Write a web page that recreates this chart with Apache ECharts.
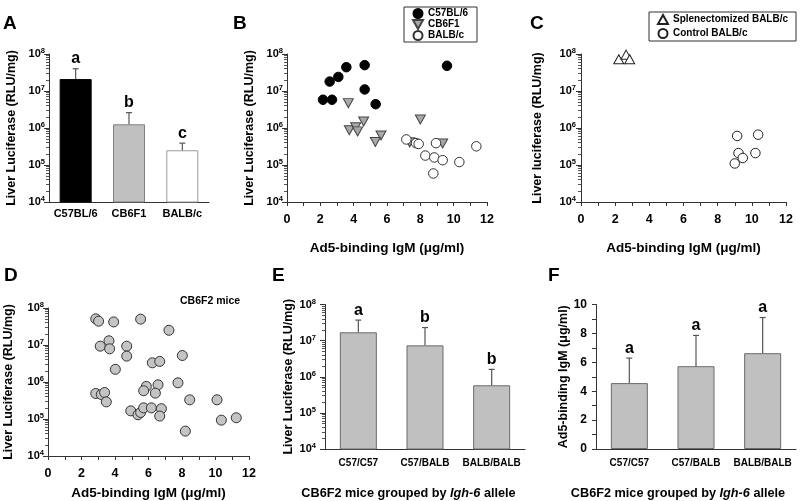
<!DOCTYPE html>
<html><head><meta charset="utf-8">
<script src="https://cdn.jsdelivr.net/npm/echarts@6/dist/echarts.min.js"></script>
<style>html,body{margin:0;padding:0;background:#fff}#c{width:800px;height:501px}</style>
</head><body><div id="c"></div><script>
const FONT = "'Liberation Sans', Arial, sans-serif";

// ---------- Data ----------
// Panel A
const strainsA = ['C57BL/6', 'CB6F1', 'BALB/c'];
const lucA = [2.1e7, 1.26e6, 2.5e5];
const lucAErr = [4.0e7, 2.6e6, 3.9e5];
const lettersA = ['a', 'b', 'c'];

// Panel B  [IgM, luciferase]
const bC57 = [[2.16,5.8e6],[2.7,5.8e6],[2.56,1.8e7],[3.08,2.4e7],[3.56,4.4e7],[4.66,5.0e7],[4.66,1.1e7],[5.32,4.4e6],[9.6,4.8e7]];
const bCB6F1 = [[3.68,4.7e6],[8.0,1.7e6],[4.6,1.5e6],[3.74,8.7e5],[4.12,1.05e6],[4.24,8.1e5],[5.64,6.3e5],[5.3,4.2e5],[7.36,4.1e5],[9.34,3.8e5]];
const bBALB = [[7.16,4.9e5],[7.74,3.9e5],[7.9,3.7e5],[8.94,3.9e5],[8.3,1.8e5],[8.84,1.6e5],[9.34,1.35e5],[8.78,5.9e4],[10.34,1.2e5],[11.36,3.2e5]];

// Panel C
const cSplx = [[2.21,7.2e7],[2.64,9.6e7],[2.85,7.2e7]];
const cCtrl = [[9.14,6.1e5],[10.37,6.6e5],[9.22,2.1e5],[10.21,2.1e5],[9.47,1.55e5],[9.0,1.1e5]];

// Panel D
const dF2 = [[2.85,5.1e7],[3.02,4.4e7],[3.92,4.2e7],[5.53,5.0e7],[7.22,2.5e7],[3.64,1.3e7],[3.12,9.3e6],[3.68,7.9e6],[4.70,9.3e6],[4.70,5.0e6],[8.02,5.2e6],[6.23,3.3e6],[6.67,3.6e6],[4.02,2.2e6],[7.76,9.5e5],[5.87,7.6e5],[6.57,8.4e5],[5.71,5.8e5],[6.41,5.0e5],[2.85,4.9e5],[3.18,4.6e5],[3.38,5.2e5],[3.48,2.9e5],[8.46,3.3e5],[10.09,3.3e5],[4.94,1.66e5],[5.37,1.3e5],[5.53,1.5e5],[5.71,2.0e5],[6.17,2.0e5],[6.77,1.9e5],[6.67,1.2e5],[10.35,9.3e4],[11.24,1.08e5],[8.2,4.7e4]];

// Panel E
const groupsE = ['C57/C57', 'C57/BALB', 'BALB/BALB'];
const lucE = [1.7e7, 7.4e6, 5.8e5];
const lucEErr = [3.7e7, 2.3e7, 1.6e6];
const lettersE = ['a', 'b', 'b'];

// Panel F
const igmF = [4.56, 5.73, 6.63];
const igmFErr = [6.29, 7.86, 9.10];
const lettersF = ['a', 'a', 'a'];

const panelLetters = ['A', 'B', 'C', 'D', 'E', 'F'];

// ---------- Helpers ----------
const AX = '#333';
function logY(gi, name, nameGap, margin) {
  return {
    type: 'log', logBase: 10, gridIndex: gi, min: 1e4, max: 1e8,
    name: name, nameLocation: 'middle', nameGap: nameGap,
    nameTextStyle: { fontFamily: FONT, fontWeight: 'bold', fontSize: 12.5, color: '#000' },
    axisLine: { show: true, lineStyle: { color: AX } },
    axisTick: { show: true, inside: false, length: 5, lineStyle: { color: AX } },
    minorTick: { show: true, splitNumber: 9, length: 3, lineStyle: { color: '#555' } },
    splitLine: { show: false }, minorSplitLine: { show: false },
    axisLabel: {
      margin: margin,
      formatter: v => '{n|10}{s|' + Math.round(Math.log10(v)) + '}',
      rich: {
        n: { fontFamily: FONT, fontWeight: 'bold', fontSize: 11, color: '#000', lineHeight: 14 },
        s: { fontFamily: FONT, fontWeight: 'bold', fontSize: 7.5, color: '#000', lineHeight: 8, verticalAlign: 'top' }
      }
    }
  };
}
function igmX(gi, nameGap) {
  return {
    type: 'value', gridIndex: gi, min: 0, max: 12, interval: 1,
    name: 'Ad5-binding IgM (μg/ml)', nameLocation: 'middle', nameGap: nameGap,
    nameTextStyle: { fontFamily: FONT, fontWeight: 'bold', fontSize: 13.5, color: '#000' },
    axisLine: { show: true, lineStyle: { color: AX } },
    axisTick: { show: true, inside: false, length: 4, lineStyle: { color: AX } },
    splitLine: { show: false },
    axisLabel: { margin: 11, fontFamily: FONT, fontWeight: 'bold', fontSize: 12.5, color: '#000',
      formatter: v => (v % 2 === 0 ? String(v) : '') }
  };
}
function catX(gi, cats, fontSize, margin, name, padRight) {
  const ax = {
    type: 'category', gridIndex: gi, data: cats,
    axisLine: { show: true, lineStyle: { color: AX } },
    axisTick: { show: false },
    axisLabel: { margin: margin, fontFamily: FONT, fontWeight: 'bold', fontSize: fontSize, color: '#000', interval: 0 }
  };
  if (name) {
    ax.name = name; ax.nameLocation = 'middle'; ax.nameGap = 38;
    ax.nameTextStyle = { padding: [0, padRight, 0, 0], rich: {
      n: { fontFamily: FONT, fontWeight: 'bold', fontSize: 12.7, color: '#000' },
      i: { fontFamily: FONT, fontWeight: 'bold', fontStyle: 'italic', fontSize: 12.7, color: '#000' } } };
  }
  return ax;
}
function errSeries(idx, tops, errs, letters) {
  return {
    type: 'custom', xAxisIndex: idx, yAxisIndex: idx, z: 5, clip: false,
    data: tops.map((t, i) => [i, t, errs[i]]),
    encode: { x: 0, y: [1, 2] },
    renderItem: (params, api) => {
      const i = api.value(0);
      const p1 = api.coord([i, api.value(1)]);
      const p2 = api.coord([i, api.value(2)]);
      return { type: 'group', children: [
        { type: 'line', shape: { x1: p1[0], y1: p1[1], x2: p2[0], y2: p2[1] }, style: { stroke: '#555', lineWidth: 1.2 } },
        { type: 'line', shape: { x1: p2[0] - 3, y1: p2[1], x2: p2[0] + 3, y2: p2[1] }, style: { stroke: '#555', lineWidth: 1.2 } },
        { type: 'text', x: p2[0], y: p2[1] - 2, style: { text: letters[params.dataIndex], fontFamily: FONT, fontWeight: 'bold', fontSize: 16, fill: '#000', align: 'center', verticalAlign: 'bottom' } }
      ] };
    }
  };
}
const downTri = 'path://M0,0 L10,0 L5,9 Z';
const letterStyle = t => ({ text: t, fontFamily: FONT, fontWeight: 'bold', fontSize: 19, fill: '#000' });

const chart = echarts.init(document.getElementById('c'), null, { renderer: 'canvas' });
const option = {
  animation: false,
  backgroundColor: '#fff',
  textStyle: { fontFamily: FONT },
  grid: [
    { left: 49, top: 54, width: 160, height: 148 },
    { left: 287, top: 54, width: 200, height: 148 },
    { left: 581, top: 54, width: 205, height: 148 },
    { left: 48, top: 308, width: 201, height: 149 },
    { left: 325, top: 304.5, width: 200, height: 148 },
    { left: 596, top: 304.5, width: 200, height: 148 }
  ],
  xAxis: [
    catX(0, strainsA, 11, 6),
    igmX(1, 39),
    igmX(2, 39),
    igmX(3, 30),
    catX(4, groupsE, 10, 9, '{n|CB6F2 mice grouped by }{i|Igh-6}{n| allele}', 33),
    catX(5, groupsE, 10, 9, '{n|CB6F2 mice grouped by }{i|Igh-6}{n| allele}', 36)
  ],
  yAxis: [
    logY(0, 'Liver Luciferase (RLU/mg)', 31, 4),
    logY(1, 'Liver Luciferase (RLU/mg)', 31, 4),
    logY(2, 'Liver luciferase (RLU/mg)', 37, 5),
    logY(3, 'Liver Luciferase (RLU/mg)', 33, 4),
    logY(4, 'Liver Luciferase (RLU/mg)', 30, 9),
    {
      type: 'value', gridIndex: 5, min: 0, max: 10, interval: 1,
      name: 'Ad5-binding IgM (μg/ml)', nameLocation: 'middle', nameGap: 26,
      nameTextStyle: { fontFamily: FONT, fontWeight: 'bold', fontSize: 12.5, color: '#000' },
      axisLine: { show: true, lineStyle: { color: AX } },
      axisTick: { show: true, inside: false, length: 4, lineStyle: { color: AX } },
      splitLine: { show: false },
      axisLabel: { margin: 9, fontFamily: FONT, fontWeight: 'bold', fontSize: 12, color: '#000',
        formatter: v => (v % 2 === 0 ? String(v) : '') }
    }
  ],
  legend: [
    {
      data: ['C57BL/6', 'CB6F1', 'BALB/c'], orient: 'vertical', left: 404, top: 7,
      padding: [1, 9, 1, 8], itemGap: 0, itemWidth: 10, itemHeight: 9,
      borderColor: AX, borderWidth: 1, selectedMode: false,
      textStyle: { fontFamily: FONT, fontWeight: 'bold', fontSize: 10, color: '#000', lineHeight: 11 }
    },
    {
      data: ['Splenectomized BALB/c', 'Control BALB/c'], orient: 'vertical', left: 649, top: 12,
      padding: [2, 8, 2, 8], itemGap: 3, itemWidth: 10, itemHeight: 9,
      borderColor: AX, borderWidth: 1, selectedMode: false,
      textStyle: { fontFamily: FONT, fontWeight: 'bold', fontSize: 10, color: '#000', lineHeight: 11 }
    }
  ],
  graphic: [
    { type: 'text', left: 3, top: 14, style: letterStyle(panelLetters[0]) },
    { type: 'text', left: 233, top: 14, style: letterStyle(panelLetters[1]) },
    { type: 'text', left: 530, top: 14, style: letterStyle(panelLetters[2]) },
    { type: 'text', left: 4, top: 266, style: letterStyle(panelLetters[3]) },
    { type: 'text', left: 272, top: 266, style: letterStyle(panelLetters[4]) },
    { type: 'text', left: 548, top: 266, style: letterStyle(panelLetters[5]) },
    { type: 'text', left: 180, top: 296, style: { text: 'CB6F2 mice', fontFamily: FONT, fontWeight: 'bold', fontSize: 10.5, fill: '#000' } }
  ],
  series: [
    {
      type: 'bar', xAxisIndex: 0, yAxisIndex: 0, barWidth: 32,
      data: lucA.map((v, i) => ({ value: v, itemStyle: {
        color: ['#000000', '#c0c0c0', '#ffffff'][i],
        borderColor: ['#000000', '#808080', '#9a9a9a'][i], borderWidth: 1 } }))
    },
    errSeries(0, lucA, lucAErr, lettersA),
    { name: 'C57BL/6', type: 'scatter', xAxisIndex: 1, yAxisIndex: 1, symbol: 'circle', symbolSize: 9.5,
      itemStyle: { color: '#000', borderColor: '#000', borderWidth: 1, opacity: 1 }, data: bC57 },
    { name: 'CB6F1', type: 'scatter', xAxisIndex: 1, yAxisIndex: 1, symbol: downTri, symbolSize: [10, 9],
      itemStyle: { color: '#a8a8a8', borderColor: '#444', borderWidth: 1, opacity: 1 }, data: bCB6F1 },
    { name: 'BALB/c', type: 'scatter', xAxisIndex: 1, yAxisIndex: 1, symbol: 'circle', symbolSize: 9.5,
      itemStyle: { color: '#fff', borderColor: '#333', borderWidth: 1, opacity: 1 }, data: bBALB },
    { name: 'Splenectomized BALB/c', type: 'scatter', xAxisIndex: 2, yAxisIndex: 2, symbol: 'triangle', symbolSize: [10, 9],
      itemStyle: { color: '#fff', borderColor: '#222', borderWidth: 1, opacity: 1 }, data: cSplx },
    { name: 'Control BALB/c', type: 'scatter', xAxisIndex: 2, yAxisIndex: 2, symbol: 'circle', symbolSize: 9.5,
      itemStyle: { color: '#fff', borderColor: '#222', borderWidth: 1, opacity: 1 }, data: cCtrl },
    { name: 'CB6F2', type: 'scatter', xAxisIndex: 3, yAxisIndex: 3, symbol: 'circle', symbolSize: 10,
      itemStyle: { color: '#c4c4c4', borderColor: '#333', borderWidth: 1, opacity: 1 }, data: dF2 },
    { type: 'bar', xAxisIndex: 4, yAxisIndex: 4, barWidth: 37,
      itemStyle: { color: '#c0c0c0', borderColor: '#6a6a6a', borderWidth: 1 }, data: lucE },
    errSeries(4, lucE, lucEErr, lettersE),
    { type: 'bar', xAxisIndex: 5, yAxisIndex: 5, barWidth: 37,
      itemStyle: { color: '#c0c0c0', borderColor: '#6a6a6a', borderWidth: 1 }, data: igmF },
    errSeries(5, igmF, igmFErr, lettersF)
  ]
};
chart.setOption(option);
</script></body></html>
